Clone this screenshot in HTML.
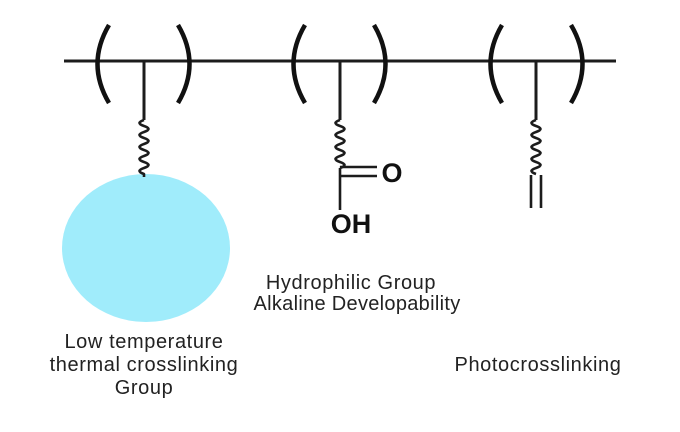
<!DOCTYPE html>
<html><head><style>
html,body{margin:0;padding:0;background:#fff;}
svg{display:block;}
text{font-family:"Liberation Sans",sans-serif;}
</style></head><body>
<svg width="680" height="432" viewBox="0 0 680 432" xmlns="http://www.w3.org/2000/svg">
<rect width="680" height="432" fill="#fff"/>
<ellipse cx="146" cy="248" rx="84" ry="74" fill="#a0ecfb"/>
<g stroke="#1c1c1c" stroke-width="3" fill="none">
<line x1="64" y1="61" x2="616" y2="61"/>
<line x1="144" y1="61" x2="144" y2="120"/>
<line x1="340" y1="61" x2="340" y2="120"/>
<line x1="536" y1="61" x2="536" y2="120"/>
</g>
<g stroke="#111" stroke-width="4.5" fill="none" stroke-linecap="butt">
<path d="M109,25 Q86,64 109,103"/>
<path d="M178,25 Q201,64 178,103"/>
<path d="M305,25 Q282,64 305,103"/>
<path d="M374,25 Q397,64 374,103"/>
<path d="M502,25 Q479,64 502,103"/>
<path d="M571,25 Q594,64 571,103"/>
</g>
<g stroke="#1c1c1c" stroke-width="2.6" fill="none" stroke-linejoin="round">
<path d="M144,120 q-9,3 0,6 q9,3 0,6 q-9,3 0,6 q9,3 0,6 q-9,3 0,6 q9,3 0,6 q-9,3 0,6 q9,3 0,6 q-9,3 0,6 l0,3"/>
<path d="M340,120 q-9,3 0,6 q9,3 0,6 q-9,3 0,6 q9,3 0,6 q-9,3 0,6 q9,3 0,6 q-9,3 0,6 q9,3 0,6"/>
<path d="M536,120 q-9,3 0,6 q9,3 0,6 q-9,3 0,6 q9,3 0,6 q-9,3 0,6 q9,3 0,6 q-9,3 0,6 q9,3 0,6 q-9,3 0,6"/>
<line x1="340" y1="168" x2="340" y2="210"/>
<line x1="340" y1="167" x2="377" y2="167"/>
<line x1="341" y1="176" x2="377" y2="176"/>
<line x1="531" y1="175" x2="531" y2="208"/>
<line x1="541" y1="175" x2="541" y2="208"/>
</g>
<text x="392" y="182" font-size="27" font-weight="bold" text-anchor="middle" fill="#111">O</text>
<text x="351" y="233" font-size="27" font-weight="bold" text-anchor="middle" fill="#111">OH</text>
<g font-size="20" fill="#222" text-anchor="middle" letter-spacing="0.6">
<text x="351" y="289">Hydrophilic Group</text>
<text x="357" y="310" letter-spacing="0.3">Alkaline Developability</text>
<text x="144" y="348">Low temperature</text>
<text x="144" y="371">thermal crosslinking</text>
<text x="144" y="394">Group</text>
<text x="538" y="371">Photocrosslinking</text>
</g>
</svg>
</body></html>
